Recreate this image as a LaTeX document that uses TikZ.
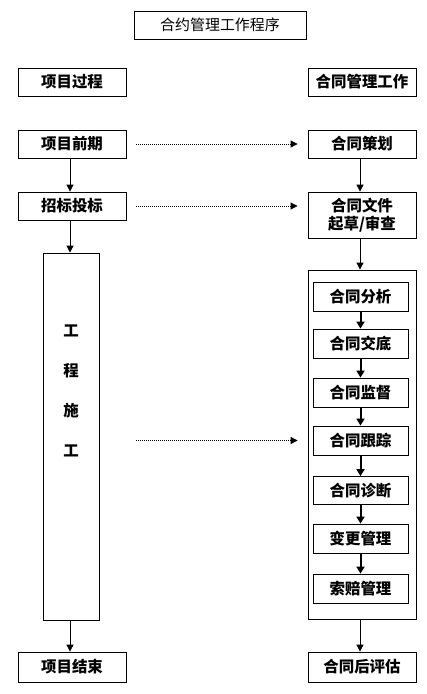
\documentclass[tikz,border=0pt]{standalone}
\usepackage{fontspec}
\setmainfont{Noto Sans CJK SC}
\usetikzlibrary{arrows.meta}
\begin{document}
\begin{tikzpicture}[x=1bp, y=-1bp]
        \tikzstyle{box}=[draw, line width=0.8pt, minimum width=108bp, minimum height=28bp, inner sep=0pt, font=\fontsize{15.5}{18}\selectfont\bfseries]
        \tikzstyle{sub}=[box, minimum width=95bp, minimum height=29bp]
        \tikzstyle{flow}=[line width=0.8pt, -{Triangle[length=7pt, width=7pt]}]
        \tikzstyle{thick flow}=[line width=2pt, -{Triangle[length=7pt, width=8pt]}]
        \tikzstyle{dots}=[line width=0.8pt, dash pattern=on 1pt off 1pt, -{Triangle[length=7pt, width=7pt]}, shorten <=10bp, shorten >=10bp]

        \useasboundingbox (0,0) rectangle (426,694);

        % title
        \node[draw, line width=0.8pt, minimum width=172bp, minimum height=28bp, font=\fontsize{15}{17}\selectfont] (title) at (220,25) {合约管理工作程序};

        % left column
        \node[box] (proc) at (72,82) {项目过程};
        \node[box] (early) at (72,144) {项目前期};
        \node[box] (bid) at (72,206) {招标投标};
        \node[box, minimum width=56bp, minimum height=367bp] (build) at (71,436.5) {};
        \node[font=\fontsize{15.5}{18}\selectfont\bfseries, align=center] (buildtxt) at (71,391) {工\\[22bp]程\\[22bp]施\\[22bp]工};
        \node[box, minimum height=30bp] (end) at (72,667) {项目结束};

        % right column
        \node[box] (work) at (362,82) {合同管理工作};
        \node[box] (plan) at (362,144) {合同策划};
        \node[box, minimum height=46bp, align=center] (draft) at (362,215) {合同文件\\起草/审查};
        \node[box, minimum height=349bp] (ctrl) at (362,444.5) {};
        \node[sub] (ana) at (360.5,296.5) {合同分析};
        \node[sub] (brief) at (360.5,343.5) {合同交底};
        \node[sub] (sup) at (360.5,392.5) {合同监督};
        \node[sub] (track) at (360.5,440.5) {合同跟踪};
        \node[sub, minimum height=28bp] (diag) at (360.5,490.5) {合同诊断};
        \node[sub] (chg) at (360.5,538.5) {变更管理};
        \node[sub] (claim) at (360.5,588.5) {索赔管理};
        \node[box, minimum height=30bp] (eval) at (362,667) {合同后评估};

        % vertical arrows
        \draw[flow] (early.south -| 70,0) -- (bid.north -| 70,0);
        \draw[flow] (bid.south -| 70,0) -- (build.north -| 70,0);
        \draw[flow] (build.south -| 70,0) -- (end.north -| 70,0);
        \draw[flow] (plan.south -| 360,0) -- (draft.north -| 360,0);
        \draw[flow] (draft.south -| 360,0) -- (ctrl.north -| 360,0);
        \draw[flow] (ctrl.south -| 360,0) -- (eval.north -| 360,0);

        \draw[thick flow] (ana) -- (brief);
        \draw[thick flow] (brief) -- (sup);
        \draw[thick flow] (sup) -- (track);
        \draw[thick flow] (track) -- (diag);
        \draw[thick flow] (diag) -- (chg);
        \draw[thick flow] (chg) -- (claim);

        % dotted links
        \draw[dots] (early) -- (plan);
        \draw[dots] (bid.east) -- (draft.west |- bid.east);
        \draw[dots, shorten <=37bp] (build.east |- track) -- (ctrl.west |- track);
    \end{tikzpicture}
\end{document}
